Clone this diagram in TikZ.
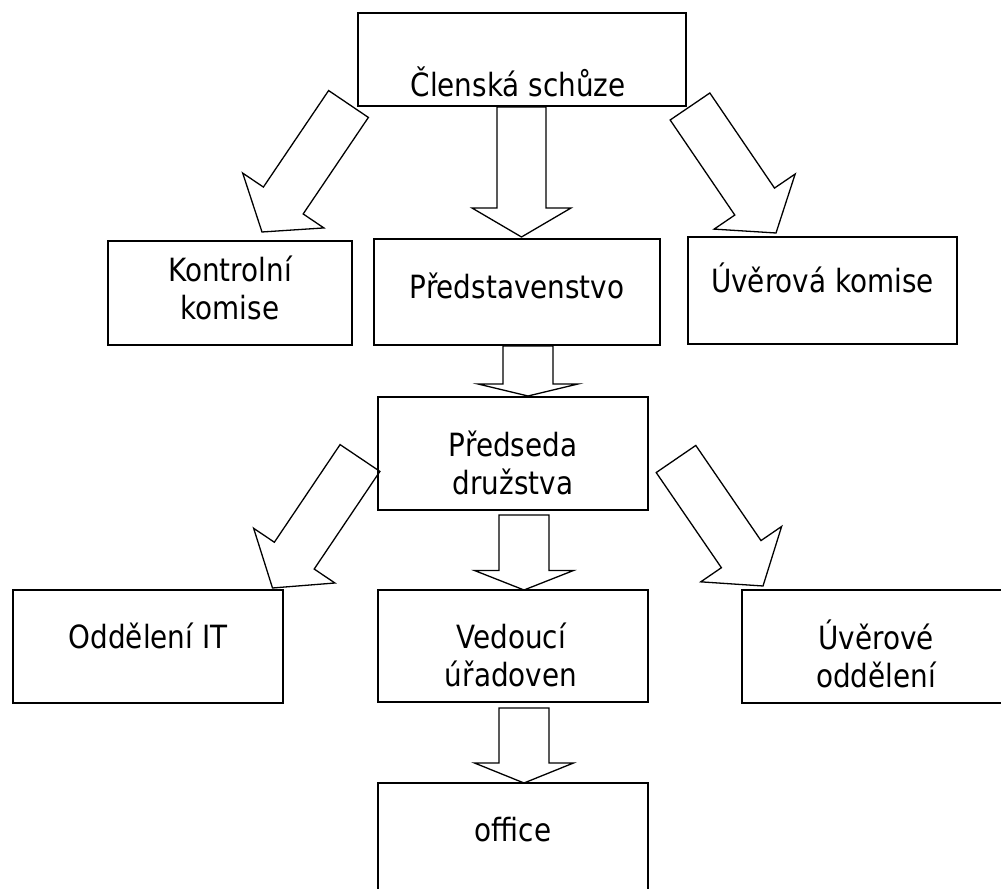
\documentclass[tikz,border=0pt]{standalone}
\usepackage{fontspec}
\setmainfont{DejaVu Sans}[FakeStretch=0.87]
\usetikzlibrary{calc}

% hollow block arrow: tail, tip, head length, shaft half width, head half width
\newcommand{\blockarrow}[5]{%
  \coordinate (ba-h) at ($(#2)!#3!(#1)$);
  \draw[blockarrow] ($(#1)!#4!90:(#2)$) -- ($(ba-h)!#4!90:(#2)$) -- ($(ba-h)!#5!90:(#2)$)
    -- (#2) -- ($(ba-h)!#5!-90:(#2)$) -- ($(ba-h)!#4!-90:(#2)$) -- ($(#1)!#4!-90:(#2)$) -- cycle;}

\tikzset{
  box/.style={draw, rectangle, line width=2bp, inner sep=0pt},
  lbl/.style={anchor=base, align=center, inner sep=0pt, font=\fontsize{32bp}{38bp}\selectfont},
  blockarrow/.style={line width=1.3bp, line join=miter},
}

\begin{document}
\begin{tikzpicture}
\useasboundingbox (0bp,0bp) rectangle (1001bp,889bp);
\clip (0bp,0bp) rectangle (1001bp,889bp);

% Node: clen
\node[box, minimum width=328bp, minimum height=93bp] (clen) at (522bp,829.5bp) {};
\node[lbl] (clen-t) at (518bp,792bp) {Členská schůze};

% Node: kontrol
\node[box, minimum width=244bp, minimum height=104bp] (kontrol) at (230bp,596bp) {};
\node[lbl] (kontrol-t) at (230bp,569bp) {Kontrolní\\komise};

% Node: predst
\node[box, minimum width=286bp, minimum height=106bp] (predst) at (517bp,597bp) {};
\node[lbl] (predst-t) at (517bp,590bp) {Představenstvo};

% Node: uverkom
\node[box, minimum width=269bp, minimum height=107bp] (uverkom) at (822.5bp,598.5bp) {};
\node[lbl] (uverkom-t) at (822.5bp,596bp) {Úvěrová komise};

% Node: predseda
\node[box, minimum width=270bp, minimum height=113bp] (predseda) at (513bp,435.5bp) {};
\node[lbl] (predseda-t) at (513bp,394bp) {Předseda\\družstva};

% Node: oddit
\node[box, minimum width=270bp, minimum height=113bp] (oddit) at (148bp,242.5bp) {};
\node[lbl] (oddit-t) at (148bp,240bp) {Oddělení IT};

% Node: vedouci
\node[box, minimum width=270bp, minimum height=112bp] (vedouci) at (513bp,243bp) {};
\node[lbl] (vedouci-t) at (511bp,202bp) {Vedoucí\\úřadoven};

% Node: uverodd
\node[box, minimum width=268bp, minimum height=113bp] (uverodd) at (876bp,242.5bp) {};
\node[lbl] (uverodd-t) at (876bp,201bp) {Úvěrové\\oddělení};

% Node: office
\node[box, minimum width=270bp, minimum height=112bp] (office) at (513bp,50bp) {};
\node[lbl] (office-t) at (513bp,47bp) {office};

% Edge: clen -> kontrol
\coordinate (a-s) at (348.5bp,785bp);
\coordinate (a-e) at (262bp,657bp);
\blockarrow{a-s}{a-e}{38bp}{24bp}{49bp}

% Edge: clen -> predst
\coordinate (b-s) at ($(clen.south)+(-0.5bp,0)$);
\coordinate (b-e) at ($(predst.north)+(4.5bp,1bp)$);
\blockarrow{b-s}{b-e}{29bp}{24.5bp}{49.5bp}

% Edge: clen -> uverkom
\coordinate (c-s) at (690bp,782.5bp);
\coordinate (c-e) at (776bp,656bp);
\blockarrow{c-s}{c-e}{38bp}{24bp}{49bp}

% Edge: predst -> predseda
\coordinate (d-s) at ($(predst.south)+(11bp,0)$);
\coordinate (d-e) at ($(predseda.north)+(15bp,0)$);
\blockarrow{d-s}{d-e}{12bp}{25bp}{50bp}

% Edge: predseda -> oddit
\coordinate (e-s) at (360bp,431bp);
\coordinate (e-e) at (272.5bp,301bp);
\blockarrow{e-s}{e-e}{39bp}{24bp}{49bp}

% Edge: predseda -> vedouci
\coordinate (f-s) at ($(predseda.south)+(11bp,-4bp)$);
\coordinate (f-e) at ($(vedouci.north)+(11bp,-1bp)$);
\blockarrow{f-s}{f-e}{19.5bp}{25bp}{49.5bp}

% Edge: predseda -> uverodd
\coordinate (g-s) at (676bp,430bp);
\coordinate (g-e) at (763bp,303bp);
\blockarrow{g-s}{g-e}{38.6bp}{24bp}{49bp}

% Edge: vedouci -> office
\coordinate (h-s) at ($(vedouci.south)+(11bp,-5bp)$);
\coordinate (h-e) at ($(office.north)+(11bp,-1bp)$);
\blockarrow{h-s}{h-e}{20bp}{25bp}{49.5bp}
%
\end{tikzpicture}
\end{document}
